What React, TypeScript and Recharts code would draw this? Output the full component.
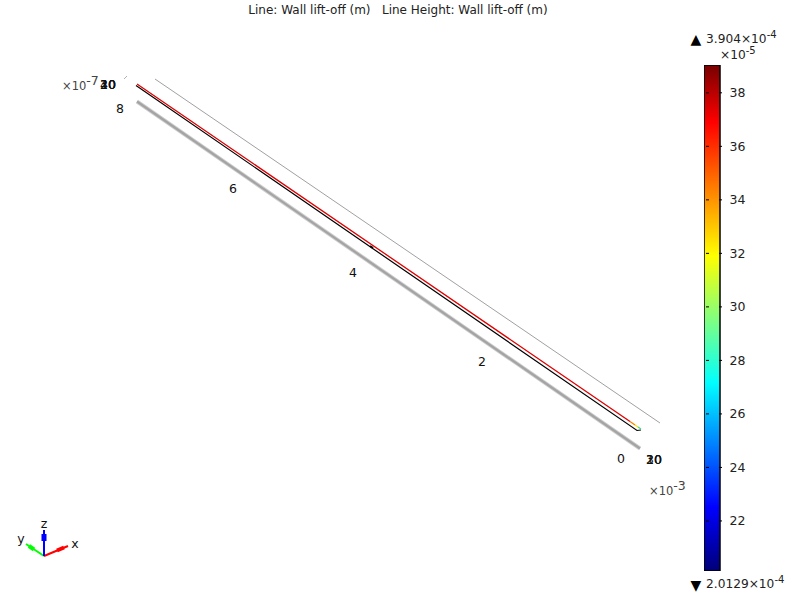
import { Bar, BarChart, ComposedChart, Line, Scatter, XAxis, YAxis } from "recharts";

const FONT = "DejaVu Sans";

const guideLine = [{ x: 155, y: 79 }, { x: 660, y: 423 }];
const cornerMark = [{ x: 124, y: 79 }, { x: 127, y: 76 }];
const shadowLine = [{ x: 137, y: 101.5 }, { x: 640, y: 448.5 }];
const blackLine = [{ x: 136, y: 85.5 }, { x: 637, y: 430.5 }, { x: 641, y: 430 }];
const blackKnot = [{ x: 370, y: 246 }, { x: 373, y: 248 }];
const redLine = [{ x: 137, y: 84 }, { x: 630, y: 421.5 }];
const orangeTip = [{ x: 630, y: 421.5 }, { x: 635, y: 425 }];
const yellowTip = [{ x: 635, y: 425 }, { x: 638, y: 427 }];
const greenTip = [{ x: 638, y: 427 }, { x: 641, y: 429 }];

const triadX = [{ x: 44, y: 556 }, { x: 68, y: 546 }];
const triadY = [{ x: 44, y: 556 }, { x: 26, y: 544 }];
const triadZ = [{ x: 44, y: 556 }, { x: 44, y: 530 }];
const triadHeadX = [{ x: 57, y: 550.5 }, { x: 64, y: 547.5 }];
const triadHeadY = [{ x: 34, y: 549.5 }, { x: 29, y: 546 }];
const triadHeadZ = [{ x: 44, y: 541 }, { x: 44, y: 534 }];

const axisLabels = [
  { x: 120, y: 108, text: "8" },
  { x: 233, y: 188, text: "6" },
  { x: 353, y: 272, text: "4" },
  { x: 482, y: 361, text: "2" },
  { x: 621, y: 458, text: "0" },
  { x: 108, y: 84, text: "10" },
  { x: 108, y: 84, text: "20" },
  { x: 108, y: 84, text: "30" },
  { x: 108, y: 84, text: "40" },
  { x: 654, y: 459, text: "10" },
  { x: 654, y: 459, text: "20" },
  { x: 654, y: 459, text: "30" },
  { x: 44, y: 523, text: "z" },
  { x: 21, y: 538, text: "y" },
  { x: 75, y: 543, text: "x" },
];
const scaleLabels = [
  { x: 62, y: 86, text: "×10", exp: "-7" },
  { x: 649, y: 491, text: "×10", exp: "-3" },
];
const rangeLabels = [
  { x: 706, y: 39, text: "3.904×10", exp: "-4" },
  { x: 720, y: 55, text: "×10", exp: "-5" },
  { x: 706, y: 584, text: "2.0129×10", exp: "-4" },
];
const rangeMarks = [
  { x: 696, y: 38.5, text: "▲" },
  { x: 696, y: 584.5, text: "▼" },
];

const titleText = "Line: Wall lift-off (m)   Line Height: Wall lift-off (m)";
const titleSpot = [{ x: 398, y: 10 }];

const colorMin = 20.129;
const colorMax = 39.04;
const colorTicks = [22, 24, 26, 28, 30, 32, 34, 36, 38];
const colorStopValues = [20.129, 22.5, 27.16, 31.9, 36.9, 39.04];
const colorStopColors = ["#000078", "#0000ff", "#00ffff", "#ffff00", "#ff0000", "#780000"];
const colorBar = [{ name: "scale", range: [colorMin, colorMax] }];

function AxisText(props: any) {
  const { cx, cy, payload } = props;
  return (
    <text x={cx} y={cy} textAnchor="middle" dominantBaseline="central" fontFamily={FONT} fontSize={12.5} fill="#111">
      {payload.text}
    </text>
  );
}

function ScaleText(props: any) {
  const { cx, cy, payload } = props;
  return (
    <text x={cx} y={cy} dominantBaseline="central" fontFamily={FONT} fontSize={11.5} fill="#444">
      {payload.text}
      <tspan dy={-6} fontSize={12.5}>{payload.exp}</tspan>
    </text>
  );
}

function RangeText(props: any) {
  const { cx, cy, payload } = props;
  return (
    <text x={cx} y={cy} dominantBaseline="central" fontFamily={FONT} fontSize={12.2} fill="#222">
      {payload.text}
      <tspan dy={-5} fontSize={10}>{payload.exp}</tspan>
    </text>
  );
}

function RangeMark(props: any) {
  const { cx, cy, payload } = props;
  return (
    <text x={cx} y={cy} textAnchor="middle" dominantBaseline="central" fontFamily={FONT} fontSize={14} fill="#000">
      {payload.text}
    </text>
  );
}

function TitleText(props: any) {
  const { cx, cy } = props;
  return (
    <text x={cx} y={cy} textAnchor="middle" dominantBaseline="central" fontFamily={FONT} fontSize={12} fill="#222" style={{ whiteSpace: "pre" }}>
      {titleText}
    </text>
  );
}

function ColorTick(props: any) {
  const { x, y, payload } = props;
  return (
    <g>
      <line x1={x - 16} x2={x - 13} y1={y} y2={y} stroke="#000" />
      <line x1={x - 3} x2={x} y1={y} y2={y} stroke="#000" />
      <text x={x + 7.5} y={y} dominantBaseline="central" fontFamily={FONT} fontSize={12.5} fill="#222">
        {payload.value}
      </text>
    </g>
  );
}

function segment(data: { x: number; y: number }[], color: string, width: number) {
  return (
    <Line
      data={data}
      dataKey="y"
      stroke={color}
      strokeWidth={width}
      dot={false}
      activeDot={false}
      legendType="none"
      isAnimationActive={false}
    />
  );
}

export default function App() {
  return (
    <div style={{ position: "absolute", left: 0, top: 0, width: 800, height: 600, background: "#fff" }}>
      <ComposedChart width={800} height={600} margin={{ top: 0, right: 0, bottom: 0, left: 0 }}>
        <XAxis type="number" dataKey="x" domain={[0, 800]} hide />
        <YAxis type="number" domain={[0, 600]} reversed hide />
        {segment(guideLine, "#a0a0a0", 1)}
        {segment(cornerMark, "#b0b0b0", 1)}
        {segment(shadowLine, "#d0d0d0", 4)}
        {segment(shadowLine, "#a4a4a4", 2.2)}
        {segment(blackLine, "#000000", 1.2)}
        {segment(blackKnot, "#000000", 2)}
        {segment(redLine, "#e00000", 1.3)}
        {segment(orangeTip, "#ff8000", 1.3)}
        {segment(yellowTip, "#ffe000", 1.3)}
        {segment(greenTip, "#40e080", 1.3)}
        {segment(triadX, "#ff0000", 2)}
        {segment(triadY, "#00ff00", 2)}
        {segment(triadZ, "#0000ff", 2)}
        {segment(triadHeadX, "#ff0000", 4)}
        {segment(triadHeadY, "#00ff00", 4)}
        {segment(triadHeadZ, "#0000ff", 5)}
        <Scatter data={axisLabels} dataKey="y" shape={AxisText} isAnimationActive={false} />
        <Scatter data={scaleLabels} dataKey="y" shape={ScaleText} isAnimationActive={false} />
        <Scatter data={rangeLabels} dataKey="y" shape={RangeText} isAnimationActive={false} />
        <Scatter data={rangeMarks} dataKey="y" shape={RangeMark} isAnimationActive={false} />
        <Scatter data={titleSpot} dataKey="y" shape={TitleText} isAnimationActive={false} />
      </ComposedChart>
      <div style={{ position: "absolute", left: 704, top: 65 }}>
        <BarChart
          width={64}
          height={506}
          data={colorBar}
          barCategoryGap={0}
          margin={{ top: 0, right: 0, bottom: 0, left: 0 }}
          style={{ overflow: "visible" }}
        >
          <defs>
            <linearGradient id="colorScale" x1="0" y1="1" x2="0" y2="0">
              {colorStopValues.map((v, i) => (
                <stop key={v} offset={(v - colorMin) / (colorMax - colorMin)} stopColor={colorStopColors[i]} />
              ))}
            </linearGradient>
          </defs>
          <XAxis dataKey="name" hide />
          <YAxis
            orientation="right"
            width={48}
            domain={[colorMin, colorMax]}
            ticks={colorTicks}
            tickLine={false}
            axisLine={false}
            tickSize={0}
            tick={ColorTick}
            interval={0}
          />
          <Bar dataKey="range" fill="url(#colorScale)" stroke="#000" strokeWidth={1.5} isAnimationActive={false} />
        </BarChart>
      </div>
    </div>
  );
}
